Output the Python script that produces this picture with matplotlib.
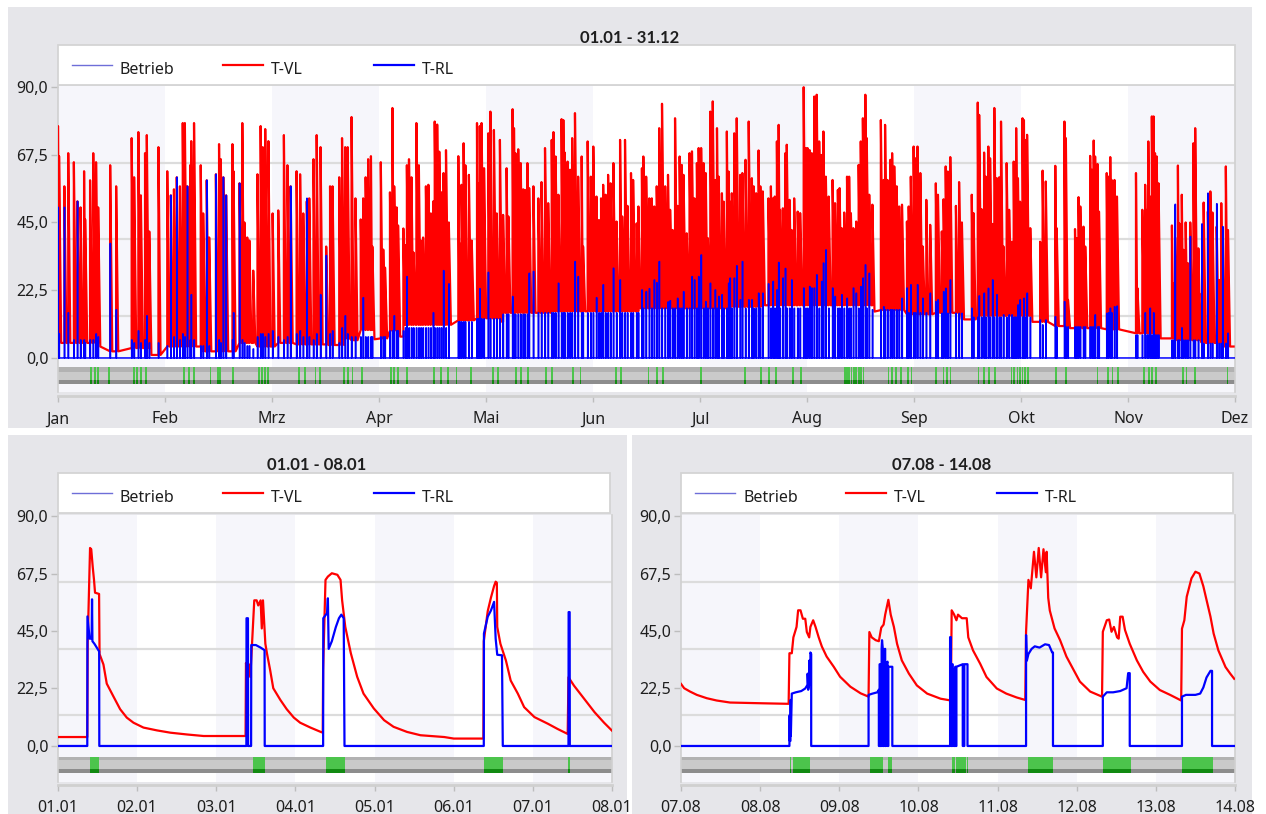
import numpy as np
import matplotlib
matplotlib.use("Agg")
import matplotlib.pyplot as plt
from matplotlib.patches import Rectangle
from matplotlib.lines import Line2D

plt.rcParams["font.family"] = ["Noto Sans", "DejaVu Sans"]

W, H = 1266, 814

# ---------------------------------------------------------------- data
month_labels = ["Jan", "Feb", "Mrz", "Apr", "Mai", "Jun", "Jul", "Aug",
                "Sep", "Okt", "Nov", "Dez"]
year_span_days = 334.0

# heating runs over the year: (day, T-VL peak, T-RL peak)
year_events = [
    (0.0, 77, 50), (0.3, 67, 8), (1.8, 57, 50), (2.9, 68, 15), (4.5, 65, 6),
    (5.5, 52, 52), (6.4, 50, 6), (7.4, 62, 6), (7.7, 46, 5), (9.1, 59, 6),
    (10.0, 68, 6), (10.8, 65, 8), (11.4, 50, 7), (14.8, 64, 38), (16.5, 57, 16),
    (20.9, 73, 6), (21.6, 60, 5), (22.8, 75, 9), (23.5, 54, 5), (24.7, 68, 6),
    (25.2, 74, 14), (25.9, 42, 5), (28.5, 70, 5), (31.0, 62, 4), (32.0, 54, 54),
    (32.9, 56, 7), (33.7, 60, 60), (34.6, 57, 6), (35.4, 78, 8), (36.0, 78, 7),
    (36.7, 57, 57), (37.5, 64, 6), (37.8, 72, 21), (38.6, 78, 6), (40.5, 64, 4),
    (41.2, 48, 4), (42.2, 59, 59), (42.9, 40, 4), (44.8, 61, 61), (45.7, 71, 6),
    (46.2, 66, 5), (46.9, 60, 60), (47.7, 54, 54), (49.5, 71, 6), (49.8, 62, 15),
    (51.5, 58, 58), (52.3, 78, 6), (52.9, 45, 5), (53.7, 40, 4), (54.3, 39, 4),
    (55.4, 29, 3), (56.6, 61, 7), (57.5, 77, 8), (58.1, 70, 8), (58.8, 76, 7),
    (59.7, 72, 8), (60.9, 48, 9), (62.5, 49, 7), (64.1, 74, 6), (65.1, 64, 7),
    (66.0, 57, 57), (67.7, 62, 8), (68.7, 61, 9), (69.6, 48, 7), (70.6, 52, 53),
    (71.3, 53, 7), (72.5, 66, 6), (73.4, 74, 8), (74.5, 70, 21), (76.1, 37, 34),
    (77.2, 57, 8), (77.9, 57, 9), (79.8, 60, 5), (80.6, 73, 10), (81.5, 70, 14),
    (82.2, 70, 8), (83.3, 80, 7), (84.4, 53, 7), (85.9, 46, 7), (86.6, 53, 20),
    (87.3, 60, 7), (88.0, 66, 7), (88.8, 67, 7), (89.2, 37, 7), (91.6, 65, 7),
    (92.3, 36, 7), (92.8, 30, 7), (94.2, 55, 9), (94.9, 83, 9), (95.4, 57, 14),
    (96.1, 50, 9), (96.5, 44, 9), (98.0, 43, 9), (98.6, 37.5, 10), (99.0, 64, 27),
    (99.6, 66, 10), (100.3, 60, 10), (100.9, 35, 10), (101.7, 78, 10), (102.4, 64, 10),
    (103.0, 39, 10), (103.6, 40, 10), (104.4, 57, 10), (105.1, 57.5, 10), (105.8, 48, 10),
    (106.5, 52, 15), (106.9, 78.5, 10), (107.6, 77.5, 10), (108.2, 68.5, 10), (108.8, 55, 10),
    (109.4, 61.4, 29), (110.1, 69, 10), (110.9, 45, 24.6), (113.6, 67, 12), (114.0, 38, 12),
    (114.5, 57.5, 12), (115.1, 71.3, 12), (115.6, 64, 12), (116.6, 60.8, 12), (117.4, 39, 12),
    (118.9, 78, 13), (119.2, 58, 13), (119.7, 77, 23), (120.2, 78, 13), (120.9, 63, 13),
    (122.1, 74.6, 28.4), (122.7, 81.8, 13), (123.7, 75.7, 13), (124.5, 48, 13), (125.4, 72.4, 13),
    (126.3, 47.5, 14.5), (127.3, 63, 14.5), (127.8, 47, 14.5), (129.0, 82.6, 20.4), (129.4, 76.3, 14.5),
    (129.8, 68, 14.5), (130.6, 69.3, 14.5), (131.3, 64.7, 14.5), (132.0, 56, 14.5), (132.5, 55.8, 14.5),
    (133.2, 64.7, 14.5), (133.7, 56.4, 28.1), (134.9, 57, 28.7), (136.3, 53, 15), (137.2, 58.4, 15),
    (138.2, 69.7, 15), (139.1, 51.4, 15), (140.1, 72.4, 15), (140.6, 75, 15), (141.2, 66.9, 15),
    (142.0, 54.2, 24.8), (142.9, 79.3, 15), (143.4, 79, 15), (143.8, 68.2, 15), (144.6, 65.2, 15),
    (145.3, 62.5, 15), (145.9, 73, 15), (146.7, 81.3, 32), (147.6, 60.2, 27), (148.6, 66.9, 15),
    (149.0, 37, 15), (150.3, 71.9, 15), (151.2, 60.2, 15), (151.9, 70.2, 15), (152.8, 53.6, 20),
    (153.5, 45.8, 15), (154.1, 53, 15), (154.7, 57.5, 24.3), (155.4, 54.2, 15), (156.1, 60.8, 15),
    (156.8, 58, 15), (157.6, 64.7, 29.8), (158.5, 45.3, 15), (159.5, 72.4, 25.9), (160.1, 47, 15),
    (160.9, 72.4, 15), (161.6, 50.5, 15), (162.6, 61.4, 15), (163.2, 59.1, 15), (164.2, 44.7, 15),
    (164.7, 50.3, 15), (165.7, 63, 22.6), (166.1, 66.9, 16.5), (166.9, 60.2, 22), (167.8, 53, 23),
    (168.5, 53, 16.5), (169.2, 50.3, 25.9), (169.9, 57, 25), (170.6, 76.3, 32), (171.4, 84.4, 16.5),
    (172.3, 57, 16.5), (173.1, 60.8, 18.6), (173.7, 49.2, 19), (174.4, 42.5, 16.5), (175.1, 79.6, 16.5),
    (175.8, 50.5, 19.8), (176.4, 66.9, 16.5), (177.0, 64.1, 16.5), (177.5, 60.8, 22), (178.4, 41.4, 16.5),
    (179.2, 68, 16.5), (179.9, 68.6, 27), (180.6, 53, 25.9), (181.3, 64.7, 16.5), (181.8, 69.7, 27),
    (182.5, 69.7, 34.2), (183.2, 64.7, 16.5), (183.8, 61.4, 18.7), (184.4, 39.8, 16.5), (185.1, 81.8, 24.8),
    (185.8, 85.2, 16.5), (186.5, 59.1, 22.6), (187.0, 76.3, 16.5), (187.5, 60.2, 20.4), (188.4, 54.7, 21),
    (188.9, 51.9, 16.5), (189.8, 75.2, 16.5), (190.3, 61.9, 24.8), (190.7, 51.9, 26.5), (191.2, 54.7, 16.5),
    (191.9, 74.6, 26.5), (192.6, 79.6, 30.6), (193.6, 60.8, 19.3), (194.2, 61.4, 32), (195.1, 65.8, 16.5),
    (196.0, 78.5, 19.3), (196.9, 59.7, 19.3), (197.4, 57, 16.5), (198.1, 54.7, 16.5), (198.8, 68.9, 21.5),
    (199.3, 57, 16.5), (200.0, 55.3, 21.5), (201.6, 53, 24.6), (202.3, 57, 16.5), (202.9, 53, 25.4),
    (203.4, 53.6, 16.5), (204.0, 71.9, 22.6), (204.5, 77.4, 31.7), (204.9, 49.2, 16.5), (205.7, 49.7, 26.5),
    (206.4, 68, 29.7), (206.8, 70.8, 16.5), (207.6, 52.5, 16.5), (208.2, 42.5, 25.9), (208.9, 53, 16.5),
    (209.9, 48.6, 16.5), (210.6, 48.1, 16.5), (211.6, 89.9, 23.2), (212.2, 69.7, 16.5), (212.7, 69.7, 16.5),
    (213.3, 69, 23.7), (213.9, 68, 23.2), (214.6, 86.8, 23.2), (215.3, 87.4, 27.6), (216.0, 71.9, 16.5),
    (216.7, 67.4, 25.4), (217.2, 75.2, 31.5), (217.9, 60.2, 35.9), (218.7, 53.6, 16.5), (219.8, 59.1, 23.2),
    (220.5, 51.4, 20.4), (221.3, 55.8, 16.5), (221.8, 56.4, 16.5), (222.4, 43.1, 21), (223.1, 48.3, 16.5),
    (223.9, 60.2, 19.8), (224.5, 60.2, 16.5), (225.0, 48.1, 16.5), (225.7, 43.1, 23.2), (226.5, 45.3, 21.5),
    (227.2, 64.1, 16.5), (227.8, 71.9, 23.7), (228.4, 79.6, 26.5), (229.1, 87.4, 30.9), (229.5, 73, 16.5),
    (230.2, 54.2, 28.1), (231.1, 50.9, 16), (233.5, 79, 16), (234.3, 59.1, 17), (234.7, 77.4, 16),
    (235.4, 59.1, 16), (236.2, 65.8, 16), (236.7, 68, 16), (237.3, 63.6, 16), (238.0, 57, 16),
    (238.7, 50.3, 16), (239.5, 50.9, 19.8), (240.9, 45.3, 23.2), (241.4, 50.3, 15), (242.0, 60.2, 24.3),
    (242.8, 70.2, 15), (243.3, 66.3, 15), (243.9, 70.2, 24.3), (244.7, 61.4, 15), (245.4, 37, 19.8),
    (246.4, 52.5, 15), (247.5, 44.2, 21.5), (249.1, 58, 18.7), (249.7, 54.2, 19.3), (250.8, 42, 14.8),
    (251.3, 52.7, 22), (251.9, 63.6, 23.1), (252.5, 61.9, 14.8), (253.2, 66.7, 25.9), (254.8, 50.5, 14.8),
    (255.7, 58.4, 14.8), (256.5, 45, 14.8), (259.3, 54.2, 16.5), (259.8, 48.1, 13.5), (261.0, 84.8, 13.5),
    (261.4, 80.7, 20.6), (262.1, 49.4, 13.5), (262.8, 68.2, 21.5), (263.3, 60.2, 13.5), (264.0, 70.2, 23.1),
    (264.5, 66.3, 13.5), (265.2, 44.5, 25.9), (265.7, 83, 13.5), (266.4, 59.7, 21), (267.1, 60, 13.5),
    (267.6, 78.5, 13.5), (268.3, 37, 14.3), (269.2, 64.7, 13.5), (269.9, 49.2, 14.3), (270.7, 38.6, 14.3),
    (271.2, 65.2, 13.5), (271.6, 53, 13.5), (271.9, 76.3, 13.5), (272.4, 59.7, 17.6), (273.0, 51.9, 19.3),
    (273.7, 79.6, 13.5), (274.1, 79, 19.8), (274.4, 72.4, 13.5), (275.0, 74.1, 21.5), (275.9, 43.1, 13.5),
    (278.7, 38.6, 12.6), (279.4, 62.2, 11), (280.3, 58.6, 12.6), (283.0, 63.8, 13.7), (283.4, 43.1, 10.3),
    (285.6, 78.5, 18.7), (286.0, 73, 10.3), (286.6, 19.3, 10.3), (288.6, 42.8, 10.3), (289.1, 39.8, 10.3),
    (289.6, 53.4, 10.3), (290.1, 50.3, 10.3), (291.0, 43.6, 10.3), (291.5, 37, 10.3), (292.9, 67.1, 10.3),
    (293.4, 62.5, 10.3), (293.9, 72.2, 10.3), (294.3, 66.9, 14.3), (295.0, 64.4, 10.3), (295.4, 48.6, 10.3),
    (297.6, 61.4, 14.8), (298.1, 60.2, 15), (298.6, 66.7, 16.5), (299.0, 59.1, 15), (299.8, 59.1, 17),
    (300.5, 53.6, 17.2), (305.9, 61.4, 7.6), (306.3, 23.2, 7.6), (307.7, 49.2, 7.6), (308.5, 57.5, 15),
    (309.1, 49.2, 7.6), (309.4, 71.9, 7.6), (309.9, 53.6, 16.5), (310.4, 80.2, 7.6), (310.9, 80.2, 15),
    (311.3, 68, 7.6), (311.8, 66.9, 7.6), (312.3, 58, 7.6), (316.1, 44, 5.9), (316.5, 24.8, 5.9),
    (317.0, 40, 51), (317.8, 63.9, 5.9), (318.2, 44.7, 5.9), (318.9, 54.2, 10), (319.4, 35.9, 5.9),
    (320.0, 45, 5.9), (320.6, 31.5, 5.9), (321.3, 45, 40.3), (322.2, 71.3, 5.9), (322.7, 76.3, 5.9),
    (323.6, 36.4, 5.9), (324.6, 21.5, 44.5), (325.1, 51.6, 4.8), (326.3, 48.6, 54.7), (327.0, 55.3, 4.8),
    (327.6, 48.3, 4.8), (328.8, 43.6, 51.2), (329.5, 25.9, 4.8), (330.1, 51.4, 4.8), (330.5, 43.1, 43.6),
    (331.4, 63.6, 4.8), (332.0, 42.5, 8.2),
]

# resting T-VL level between runs: (from day, level)
year_vl_floor = [
    (0, 5.0), (11.5, 3.8), (12.9, 2.2), (20.4, 3.3), (26.1, 1.0), (30.8, 3.8),
    (41.2, 2.2), (50.7, 5.0), (56.4, 3.8), (62.1, 5.0), (67.7, 4.5), (76.3, 4.3),
    (81.4, 6.5), (83.3, 5.9), (85.7, 9.3), (89.4, 6.2), (91.3, 6.5), (94.2, 9.1),
    (97.0, 7.1), (98.4, 11.0), (111.7, 9.9), (113.6, 12.5), (118.3, 13.2),
    (125.9, 12.0), (126.8, 15.0), (140, 15.5), (165, 16.5), (190, 17.0),
    (200, 17.5), (231.2, 15.4), (233.3, 15.9), (240.9, 14.5), (249, 15.0),
    (256.5, 12.8), (261, 14.0), (276.3, 12.0), (281.1, 10.6), (286.7, 9.9),
    (296.2, 9.5), (301.9, 7.6), (305.7, 8.2), (311.3, 6.5), (317, 5.9),
    (324.6, 5.0), (330.3, 3.8),
]

# days with a Betrieb pulse
year_betrieb = [
    9.1, 10.2, 11.1, 14.2, 21.3, 22.2, 23.3, 24.7, 35.5, 36.9, 38.3, 43.1,
    45.1, 45.7, 49.4, 56.8, 57.6, 58.5, 59.3, 68.1, 69.8, 72.9, 74.1, 80.9,
    82.0, 83.4, 86.0, 94.2, 95.2, 96.2, 98.8, 106.4, 108.4, 110.4, 112.9,
    116.9, 123.2, 124.6, 129.7, 131.1, 133.1, 138.2, 139.9, 145.9, 148.1,
    158.1, 159.5, 167.4, 169.7, 171.4, 182.2, 194.7, 199.2, 201.5, 203.5,
    208.3, 210.6, 223.1, 223.7, 224.3, 225.0, 225.7, 226.3, 227.0, 227.7,
    228.4, 235.5, 236.5, 237.5, 239.0, 241.0, 242.0, 249.0, 251.0, 252.0,
    253.0, 261.0, 262.5, 264.0, 265.6, 270.4, 271.0, 272.0, 272.8, 273.5,
    274.2, 275.0, 283.0, 285.8, 294.8, 297.7, 299.0, 300.5, 307.9, 309.3,
    310.3, 311.3, 319.0, 320.0, 322.4, 331.7,
]

jan_labels = ["01.01", "02.01", "03.01", "04.01", "05.01", "06.01", "07.01", "08.01"]
jan_vl = [
    (0.0, 3.5), (0.37, 3.5), (0.375, 40), (0.405, 77.5), (0.42, 77), (0.439, 70),
    (0.455, 65), (0.468, 60), (0.519, 59.5), (0.525, 36), (0.574, 31.9), (0.616, 24.4),
    (0.70, 19.4), (0.785, 14.4), (0.869, 11.1), (0.954, 9.1), (1.08, 7.2), (1.25, 6.1),
    (1.42, 5.2), (1.63, 4.5), (1.84, 3.9), (2.37, 3.9),
    (2.375, 32.5), (2.40, 27), (2.41, 32), (2.43, 27), (2.46, 45), (2.48, 57),
    (2.51, 57), (2.53, 55), (2.56, 57), (2.575, 46), (2.59, 57), (2.62, 40),
    (2.64, 36.3), (2.68, 29.8), (2.72, 22.6), (2.81, 18), (2.89, 14.4), (2.98, 11.1),
    (3.06, 9.1), (3.19, 7.2), (3.32, 5.5), (3.345, 5.2),
    (3.35, 30), (3.38, 65), (3.41, 66.3), (3.46, 67.6), (3.53, 67), (3.57, 65),
    (3.59, 57), (3.63, 46.6), (3.70, 36.3), (3.78, 27.1), (3.86, 20.5), (3.99, 14.7),
    (4.12, 10.1), (4.24, 7.5), (4.41, 5.5), (4.58, 4.2), (4.88, 3.5), (5.0, 2.9),
    (5.375, 2.9),
    (5.38, 41), (5.43, 52.8), (5.47, 58), (5.51, 62.6), (5.53, 64.3), (5.545, 63.9),
    (5.55, 46.6), (5.59, 40), (5.66, 33.4), (5.72, 25.6), (5.81, 20.5), (5.89, 15.2),
    (6.02, 11.3), (6.19, 8.7), (6.31, 6.7), (6.44, 4.7),
    (6.45, 26.9), (6.52, 23.6), (6.65, 18.4), (6.78, 13.2), (6.90, 9.1), (7.0, 6.0),
]
jan_rl = [
    (0, 0), (0.37, 0), (0.372, 50.7), (0.40, 42), (0.425, 42), (0.43, 57.4),
    (0.435, 41), (0.46, 40), (0.50, 38), (0.52, 37), (0.522, 0),
    (2.38, 0), (2.382, 50), (2.40, 50), (2.402, 0), (2.44, 0), (2.442, 39.5),
    (2.50, 39.5), (2.56, 38.5), (2.61, 37.5), (2.612, 0),
    (3.35, 0), (3.352, 50), (3.40, 52), (3.41, 57.8), (3.42, 38), (3.46, 41),
    (3.51, 46.5), (3.55, 50), (3.58, 51.4), (3.61, 50), (3.62, 0),
    (5.38, 0), (5.382, 44), (5.43, 50.6), (5.47, 53), (5.51, 56.4), (5.53, 42),
    (5.55, 35.7), (5.61, 35.5), (5.62, 0),
    (6.45, 0), (6.452, 52.4), (6.465, 52.4), (6.467, 0), (7.0, 0),
]
jan_betrieb = [(0.41, 0.52), (2.46, 2.61), (3.39, 3.63), (5.38, 5.62), (6.45, 6.465)]

aug_labels = ["07.08", "08.08", "09.08", "10.08", "11.08", "12.08", "13.08", "14.08"]
aug_vl = [
    (0, 24.3), (0.04, 22.6), (0.114, 21.3), (0.2, 20), (0.325, 18.7), (0.45, 17.8),
    (0.62, 17), (1.04, 16.7), (1.36, 16.5),
    (1.37, 36.3), (1.40, 36.3), (1.42, 42.5), (1.46, 46.6), (1.48, 53.1), (1.51, 53.1),
    (1.54, 49.8), (1.57, 49.8), (1.59, 44.6), (1.62, 42.5), (1.635, 46.6), (1.67, 49.2),
    (1.70, 46.6), (1.74, 42.5), (1.78, 38.9), (1.84, 35), (1.93, 31), (2.01, 27.1),
    (2.14, 23.2), (2.27, 20.6), (2.37, 19.3),
    (2.38, 44.6), (2.41, 42.5), (2.46, 41.4), (2.50, 41), (2.53, 46.3), (2.56, 47.5),
    (2.58, 51.4), (2.62, 57.2), (2.65, 51.4), (2.69, 46.6), (2.73, 40), (2.79, 33.5),
    (2.88, 28.3), (2.98, 23.7), (3.11, 20.5), (3.28, 18.5), (3.41, 17.8),
    (3.42, 53.1), (3.45, 51.5), (3.48, 49.2), (3.50, 51.4), (3.55, 50), (3.61, 50),
    (3.63, 42.5), (3.69, 37.4), (3.78, 32.2), (3.86, 27), (3.99, 22.5), (4.11, 20.5),
    (4.24, 19), (4.35, 18),
    (4.36, 44.7), (4.39, 65), (4.42, 61.7), (4.46, 76), (4.49, 66), (4.52, 77.5),
    (4.55, 66), (4.58, 77), (4.61, 68), (4.62, 76), (4.64, 58), (4.66, 53),
    (4.72, 46), (4.79, 41.4), (4.87, 35), (4.96, 29.8), (5.04, 25.2), (5.17, 21.3),
    (5.32, 19.3),
    (5.33, 44.7), (5.38, 49.2), (5.41, 49.5), (5.44, 44.7), (5.47, 46.6), (5.51, 42.5),
    (5.53, 42), (5.55, 50.6), (5.58, 50.6), (5.61, 45.4), (5.67, 40), (5.76, 33.5),
    (5.84, 29), (5.93, 25.2), (6.05, 21.9), (6.18, 20), (6.32, 17.8),
    (6.33, 45.9), (6.36, 49.2), (6.39, 58.4), (6.45, 65.6), (6.50, 68.2), (6.55, 67.5),
    (6.60, 62.5), (6.64, 57.2), (6.69, 50.6), (6.73, 44), (6.79, 37.4), (6.88, 30.9),
    (6.94, 28.3), (6.99, 26.3),
]
aug_rl = [
    (0, 0), (1.37, 0), (1.37, 12), (1.375, 12), (1.375, 2), (1.383, 2), (1.383, 18),
    (1.388, 18), (1.388, 4), (1.40, 20.5), (1.45, 21), (1.52, 21.5), (1.57, 22.5),
    (1.60, 24), (1.60, 28.3), (1.607, 22), (1.62, 24), (1.62, 33.4), (1.627, 25),
    (1.635, 30), (1.635, 36.6), (1.645, 36), (1.645, 0),
    (2.37, 0), (2.37, 20), (2.42, 20.5), (2.48, 21), (2.50, 22), (2.50, 0),
    (2.51, 0), (2.51, 32), (2.515, 32), (2.515, 0), (2.525, 0), (2.525, 31),
    (2.53, 31), (2.53, 0), (2.535, 0), (2.535, 38), (2.54, 41.4), (2.55, 38),
    (2.55, 0), (2.565, 0), (2.565, 35), (2.575, 38), (2.58, 38), (2.58, 0),
    (2.59, 0), (2.59, 32), (2.61, 33), (2.61, 0), (2.62, 0), (2.62, 31),
    (2.67, 31), (2.67, 0),
    (3.40, 0), (3.40, 42.6), (3.41, 42.6), (3.41, 0), (3.425, 0), (3.425, 32),
    (3.432, 32), (3.432, 0), (3.44, 0), (3.44, 30), (3.45, 30), (3.45, 0),
    (3.465, 0), (3.465, 31), (3.472, 31), (3.472, 0), (3.48, 0), (3.48, 31),
    (3.56, 32), (3.56, 0), (3.58, 0), (3.58, 32), (3.62, 32), (3.62, 0),
    (4.36, 0), (4.36, 43.4), (4.37, 33.4), (4.39, 36), (4.43, 38), (4.47, 39),
    (4.53, 38.5), (4.60, 39.8), (4.65, 39.5), (4.69, 36.6), (4.70, 36.6), (4.70, 0),
    (5.33, 0), (5.33, 19.3), (5.38, 21), (5.46, 21), (5.55, 21.5), (5.63, 22.6),
    (5.65, 28.5), (5.67, 28.5), (5.67, 0),
    (6.33, 0), (6.33, 19.3), (6.38, 20), (6.50, 20), (6.56, 20.5), (6.60, 22.9),
    (6.64, 26.8), (6.69, 29.4), (6.71, 29.4), (6.71, 0), (7.0, 0),
]
aug_betrieb = [(1.38, 1.387), (1.42, 1.63), (2.39, 2.55), (2.62, 2.67), (3.42, 3.46),
               (3.48, 3.60), (3.62, 3.63), (4.38, 4.70), (5.33, 5.68), (6.33, 6.72)]

y_ticks = [0, 22.5, 45, 67.5, 90]

# ---------------------------------------------------------------- style
RED = "#FF0000"
BLUE = "#0000FF"
BETRIEB = "#6E6ED8"
PANEL = "#E6E6EA"
BAND = "#F6F6FB"
GRID = "#DCDCDC"
AXLINE = "#D0D0D0"
TXT = "#1E1E1E"
FS = 11.5
TITLE_FONT = ["Lato", "Open Sans", "DejaVu Sans"]

fig = plt.figure(figsize=(W / 100, H / 100), dpi=100)
fig.patch.set_facecolor("white")


def frect(x0, y0, x1, y1, **kw):
    fig.add_artist(Rectangle((x0 / W, 1 - y1 / H), (x1 - x0) / W, (y1 - y0) / H,
                             transform=fig.transFigure, **kw))


def fline(x0, x1, y, **kw):
    fig.add_artist(Line2D([x0 / W, x1 / W], [1 - y / H, 1 - y / H],
                          transform=fig.transFigure, **kw))


def ftext(x, y, s, **kw):
    fig.text(x / W, 1 - y / H, s, **kw)


def legend_box(l, t, r, b):
    frect(l, t, r, b, facecolor="white", edgecolor="#D4D4D4", lw=1.3, zorder=5)
    entries = [("Betrieb", BETRIEB, 1.0), ("T-VL", RED, 1.6), ("T-RL", BLUE, 1.6)]
    for i, (lab, col, lw) in enumerate(entries):
        x0 = l + 14 + i * 151
        fline(x0, x0 + 40, t + 19.5, color=col, lw=lw, zorder=6)
        ftext(x0 + 48, t + 29, lab, ha="left", va="baseline", fontsize=FS,
              color=TXT, zorder=6)


def make_axes(l, t, r, b, xlim, ylim, xticks, xlabels, band_edges, spine_out):
    ax = fig.add_axes([l / W, 1 - b / H, (r - l) / W, (b - t) / H])
    ax.set_xlim(*xlim)
    ax.set_ylim(*ylim)
    ax.set_facecolor("white")
    for i in range(len(band_edges) - 1):
        if i % 2 == 0:
            ax.axvspan(band_edges[i], band_edges[i + 1], color=BAND, lw=0, zorder=0)
    y0, y1 = ylim
    for k in (1, 2, 3):
        ax.axhline(y0 + (y1 - y0) * k / 4, color=GRID, lw=1.6, zorder=1)
    ax.set_yticks(y_ticks)
    ax.set_yticklabels([f"{v:.1f}".replace(".", ",") for v in y_ticks])
    ax.set_xticks(xticks)
    ax.set_xticklabels(xlabels)
    ax.tick_params(axis="y", length=5, width=1, color="#BDBDBD", pad=2,
                   labelsize=FS, labelcolor=TXT)
    ax.tick_params(axis="x", length=4, width=1, color="#BDBDBD", pad=7,
                   labelsize=FS, labelcolor=TXT)
    ax.spines["top"].set_visible(False)
    for s in ("left", "right"):
        ax.spines[s].set_color(AXLINE)
        ax.spines[s].set_linewidth(1.2)
    ax.spines["bottom"].set_color(AXLINE)
    ax.spines["bottom"].set_linewidth(2)
    ax.spines["bottom"].set_position(("outward", spine_out))
    return ax


def betrieb_strip(ax, spans, levels):
    top, mid_top, mid_bot, bot = levels
    xmin, xmax = ax.get_xlim()
    ax.fill_between([xmin, xmax], mid_top, top, color="#B2B2B2", lw=0, zorder=2)
    ax.fill_between([xmin, xmax], mid_bot, mid_top, color="#CACACA", lw=0, zorder=2)
    ax.fill_between([xmin, xmax], bot, mid_bot, color="#8D8D8D", lw=0, zorder=2)
    bars = [(s, e - s) for s, e in spans]
    ax.broken_barh(bars, (mid_bot, top - mid_bot), facecolors="#4CC44C", lw=0, zorder=2.1)
    ax.broken_barh(bars, (bot, mid_bot - bot), facecolors="#128A12", lw=0, zorder=2.1)


# ---------------------------------------------------------------- panels
frect(8, 7, 1252, 428, facecolor=PANEL, edgecolor="none", zorder=0)
frect(8, 435, 627, 814, facecolor=PANEL, edgecolor="none", zorder=0)
frect(632, 435, 1252, 814, facecolor=PANEL, edgecolor="none", zorder=0)

# ---- whole year
month_pos = np.linspace(0, year_span_days, len(month_labels))
ax_y = make_axes(58, 86, 1235, 392, (0, year_span_days), (-11.3, 90.3),
                 month_pos, month_labels, month_pos, 3)
betrieb_strip(ax_y, [(d, d + 0.45) for d in year_betrieb], (-3.1, -4.55, -7.3, -8.6))

ev_day = np.array([e[0] for e in year_events])
ev_vl = np.array([e[1] for e in year_events])
ev_rl = np.array([e[2] for e in year_events])
fl_day = np.array([f[0] for f in year_vl_floor])
fl_val = np.array([f[1] for f in year_vl_floor])


def floor_at(d):
    return fl_val[max(np.searchsorted(fl_day, d, side="right") - 1, 0)]


gaps = np.append(np.diff(ev_day), 1.0)
vx, vy = [0.0], [floor_at(0.0)]
rx, ry = [0.0], [0.0]
for d, p, r, g in zip(ev_day, ev_vl, ev_rl, gaps):
    wv = min(0.6, 0.85 * g)
    wr = min(0.1, 0.3 * g)
    vx += [d, d, d + wv]
    vy += [floor_at(d), p, floor_at(d + wv)]
    rx += [d, d, d + wr, d + wr]
    ry += [0, r, r, 0]
vx.append(year_span_days - 0.4)
vy.append(floor_at(year_span_days))
rx.append(year_span_days)
ry.append(0)
ax_y.plot(vx, vy, color=RED, lw=1.6, zorder=3)
ax_y.plot(rx, ry, color=BLUE, lw=1.1, zorder=4)
legend_box(58, 45, 1235, 85)
ftext(630, 38, "01.01 - 31.12", ha="center", va="center", fontsize=FS + 0.5,
      fontweight="bold", family=TITLE_FONT, color=TXT)

# ---- two weeks in detail
week_pos = np.arange(8)
for (l, r, cx, title, labels, vl, rl, spans) in [
        (58, 612, 317, "01.01 - 08.01", jan_labels, jan_vl, jan_rl, jan_betrieb),
        (681, 1235, 942, "07.08 - 14.08", aug_labels, aug_vl, aug_rl, aug_betrieb)]:
    ax = make_axes(l, 515, r, 782, (0, 7), (-14.1, 90.4), week_pos, labels,
                   week_pos, 2)
    betrieb_strip(ax, spans, (-4.2, -5.5, -9.0, -10.4))
    ax.plot([p[0] for p in vl], [p[1] for p in vl], color=RED, lw=1.6, zorder=3)
    ax.plot([p[0] for p in rl], [p[1] for p in rl], color=BLUE, lw=1.6, zorder=4)
    legend_box(l, 473, r - 2, 513)
    ftext(cx, 465, title, ha="center", va="center", fontsize=FS + 0.5,
          fontweight="bold", family=TITLE_FONT, color=TXT)

fig.savefig("out.png", dpi=100, facecolor="white")
